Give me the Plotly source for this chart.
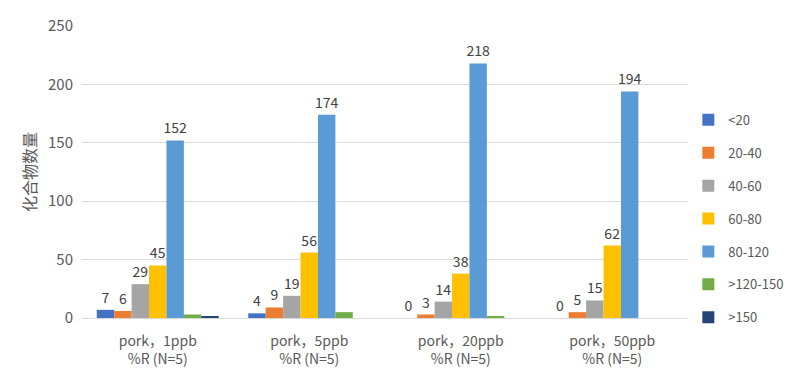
import plotly.graph_objects as go

categories = ["pork，1ppb<br>%R (N=5)", "pork，5ppb<br>%R (N=5)",
              "pork，20ppb<br>%R (N=5)", "pork，50ppb<br>%R (N=5)"]
series_names = ["<20", "20-40", "40-60", "60-80", "80-120", ">120-150", ">150"]
v_lt20 = [7, 4, 0, 0]
v_20_40 = [6, 9, 3, 5]
v_40_60 = [29, 19, 14, 15]
v_60_80 = [45, 56, 38, 62]
v_80_120 = [152, 174, 218, 194]
v_120_150 = [3, 5, 1, 0]
v_gt150 = [1, 0, 0, 0]
series_values = [v_lt20, v_20_40, v_40_60, v_60_80, v_80_120, v_120_150, v_gt150]
show_labels = [True, True, True, True, True, False, False]
colors = ["#4472C4", "#ED7D31", "#A5A5A5", "#FFC000", "#5B9BD5", "#70AD47", "#264478"]

FONT = "Noto Sans CJK SC, Noto Sans, sans-serif"

fig = go.Figure()
for i, (name, vals) in enumerate(zip(series_names, series_values)):
    fig.add_trace(go.Bar(
        x=categories, y=vals, name=name,
        marker=dict(color=colors[i], line=dict(width=0)),
        text=[str(v) for v in vals] if show_labels[i] else None,
        textposition="outside" if show_labels[i] else "none",
        textfont=dict(size=14, color="#404040", family=FONT),
        constraintext="none",
        cliponaxis=False,
        legendgroup=name,
    ))

fig.update_layout(
    width=792, height=363,
    barmode="group", bargap=0.195, bargroupgap=0,
    paper_bgcolor="white", plot_bgcolor="white",
    margin=dict(l=74, r=112, t=18, b=53, autoexpand=False),
    font=dict(family=FONT, color="#595959", size=13),
    legend=dict(x=0.859, y=0.419, xanchor="left", yanchor="middle",
                xref="container", yref="container", maxheight=320,
                font=dict(size=13, color="#595959", family=FONT),
                traceorder="grouped", tracegroupgap=13,
                itemwidth=30, bgcolor="rgba(0,0,0,0)"),
)
fig.update_xaxes(showline=True, linecolor="#d9d9d9", linewidth=1,
                 showgrid=False, ticks="", ticklabelstandoff=10,
                 tickfont=dict(size=14, color="#595959", family=FONT))
fig.update_yaxes(range=[0, 250], dtick=50, showgrid=True, gridcolor="#d9d9d9",
                 gridwidth=1, zeroline=False, showline=False, ticks="",
                 ticklabelstandoff=8,
                 tickfont=dict(size=15, color="#595959", family=FONT),
                 title=dict(text="化合物数量", font=dict(size=16, color="#595959", family=FONT),
                            standoff=7))

fig.write_html("out.html")
